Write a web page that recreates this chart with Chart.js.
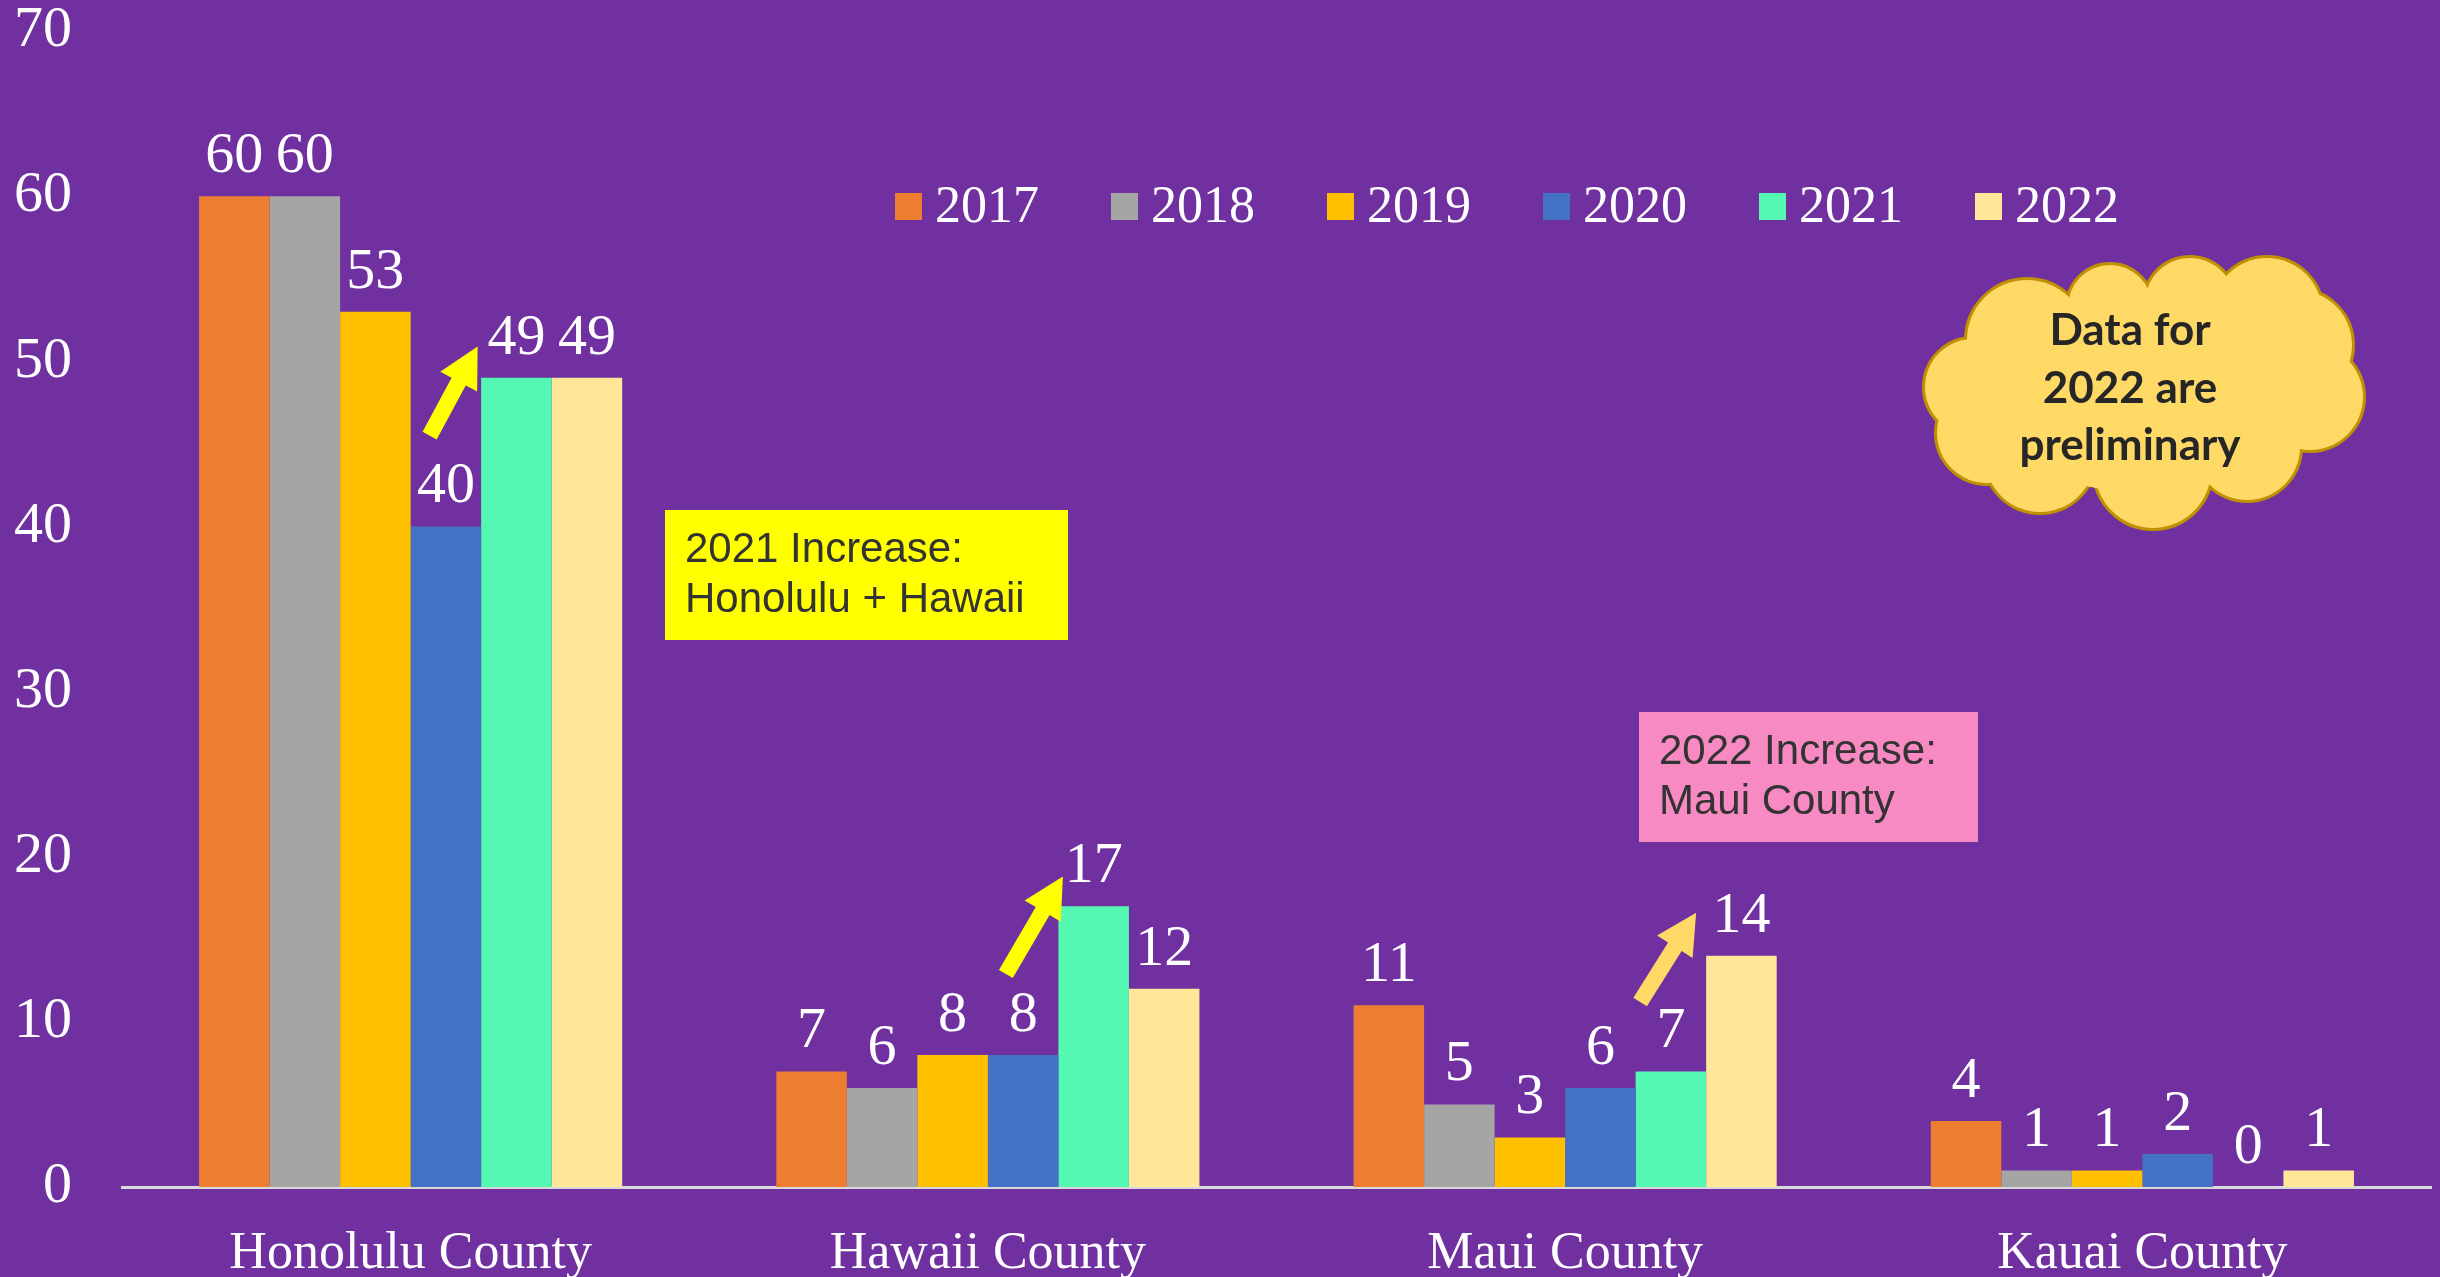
<!DOCTYPE html>
<html>
<head>
<meta charset="utf-8">
<script src="https://cdn.jsdelivr.net/npm/chart.js@4.4.0/dist/chart.umd.min.js"></script>
<style>
  html, body { margin: 0; padding: 0; background: #7030A0; }
  #wrap { width: 2440px; height: 1277px; position: relative; }
</style>
</head>
<body>
<div id="wrap"><canvas id="chart"></canvas></div>
<script>
// Chart data
const counties = ['Honolulu County', 'Hawaii County', 'Maui County', 'Kauai County'];
const years = ['2017', '2018', '2019', '2020', '2021', '2022'];
const v2017 = [60, 7, 11, 4];
const v2018 = [60, 6, 5, 1];
const v2019 = [53, 8, 3, 1];
const v2020 = [40, 8, 6, 2];
const v2021 = [49, 17, 7, 0];
const v2022 = [49, 12, 14, 1];
const yTicks = [0, 10, 20, 30, 40, 50, 60, 70];

const colors = ['#ED7D31', '#A5A5A5', '#FFC000', '#4472C4', '#55F8B3', '#FFE699'];
const serif = "'Liberation Serif', 'Times New Roman', serif";

// arrows: category index, tail [px offset, value], tip [px offset, value]
const arrows = [
  { cat: 0, tail: [19, 45.5], tip: [67, 50.9], color: '#FFFF00' },
  { cat: 1, tail: [18, 12.9], tip: [75, 18.8], color: '#FFFF00' },
  { cat: 2, tail: [75, 11.2], tip: [131, 16.6], color: '#FFD966' }
];

const seriesValues = [v2017, v2018, v2019, v2020, v2021, v2022];

function drawArrow(ctx, x1, y1, x2, y2, color) {
  const shaft = 16, headW = 42, headL = 40;
  const ang = Math.atan2(y2 - y1, x2 - x1);
  const len = Math.hypot(x2 - x1, y2 - y1);
  ctx.save();
  ctx.translate(x1, y1);
  ctx.rotate(ang);
  ctx.beginPath();
  ctx.moveTo(0, -shaft / 2);
  ctx.lineTo(len - headL, -shaft / 2);
  ctx.lineTo(len - headL, -headW / 2);
  ctx.lineTo(len, 0);
  ctx.lineTo(len - headL, headW / 2);
  ctx.lineTo(len - headL, shaft / 2);
  ctx.lineTo(0, shaft / 2);
  ctx.closePath();
  ctx.fillStyle = color;
  ctx.fill();
  ctx.restore();
}

function drawCloud(ctx) {
  const puffs = [
    [2027, 340, 60], [2110, 307, 42], [2190, 303, 45], [2267, 313, 55],
    [2297, 345, 55], [2310, 397, 53], [2247, 447, 53], [2153, 470, 58],
    [2040, 457, 55], [1987, 433, 50], [1973, 387, 48]
  ];
  ctx.save();
  ctx.strokeStyle = '#BF9000';
  ctx.lineWidth = 6;
  puffs.forEach(p => { ctx.beginPath(); ctx.arc(p[0], p[1], p[2], 0, Math.PI * 2); ctx.stroke(); });
  ctx.fillStyle = '#FFD966';
  puffs.forEach(p => { ctx.beginPath(); ctx.arc(p[0], p[1], p[2], 0, Math.PI * 2); ctx.fill(); });
  ctx.beginPath();
  ctx.ellipse(2144, 392, 170, 100, 0, 0, Math.PI * 2);
  ctx.fill();
  ctx.fillStyle = '#262626';
  ctx.font = "bold 44px Lato, 'Open Sans', sans-serif";
  ctx.textAlign = 'center';
  ctx.textBaseline = 'alphabetic';
  ctx.fillText('Data for', 2130, 345);
  ctx.fillText('2022 are', 2130, 403);
  ctx.fillText('preliminary', 2130, 460);
  ctx.restore();
}

function drawNote(ctx, x, y, w, h, bg, lines) {
  ctx.save();
  ctx.fillStyle = bg;
  ctx.fillRect(x, y, w, h);
  ctx.fillStyle = '#333333';
  ctx.font = "42px 'Liberation Sans', Arial, sans-serif";
  ctx.textAlign = 'left';
  ctx.textBaseline = 'alphabetic';
  lines.forEach((t, i) => ctx.fillText(t, x + 20, y + 52 + i * 50));
  ctx.restore();
}

const extras = {
  id: 'extras',
  afterDatasetsDraw(chart) {
    const ctx = chart.ctx;
    const xs = chart.scales.x, ys = chart.scales.y;

    // value labels above bars
    ctx.save();
    ctx.fillStyle = '#FFFFFF';
    ctx.font = '58px ' + serif;
    ctx.textAlign = 'center';
    ctx.textBaseline = 'alphabetic';
    chart.data.datasets.forEach((ds, i) => {
      chart.getDatasetMeta(i).data.forEach((bar, j) => {
        ctx.fillText(String(ds.data[j]), bar.x, bar.y - 24);
      });
    });
    ctx.restore();

    // legend
    ctx.save();
    ctx.font = '52px ' + serif;
    ctx.textBaseline = 'alphabetic';
    chart.data.datasets.forEach((ds, i) => {
      const lx = 895 + i * 216;
      ctx.fillStyle = ds.backgroundColor;
      ctx.fillRect(lx, 193, 27, 27);
      ctx.fillStyle = '#FFFFFF';
      ctx.fillText(ds.label, lx + 40, 222);
    });
    ctx.restore();

    // arrows
    arrows.forEach(a => {
      const cx = xs.getPixelForValue(a.cat);
      drawArrow(ctx, cx + a.tail[0], ys.getPixelForValue(a.tail[1]),
        cx + a.tip[0], ys.getPixelForValue(a.tip[1]), a.color);
    });

    drawNote(ctx, 665, 510, 403, 130, '#FFFF00', ['2021 Increase:', 'Honolulu + Hawaii']);
    drawNote(ctx, 1639, 712, 339, 130, '#F78AC2', ['2022 Increase:', 'Maui County']);
    drawCloud(ctx);
  }
};

Chart.defaults.font.family = serif;
Chart.defaults.color = '#FFFFFF';

const chart = new Chart(document.getElementById('chart'), {
  type: 'bar',
  data: {
    labels: counties,
    datasets: years.map((y, i) => ({
      label: y,
      data: seriesValues[i],
      backgroundColor: colors[i],
      borderWidth: 0,
      categoryPercentage: 0.733,
      barPercentage: 1
    }))
  },
  options: {
    responsive: true,
    maintainAspectRatio: false,
    animation: false,
    layout: { autoPadding: false, padding: { top: 31, right: 9, left: 0, bottom: 0 } },
    plugins: { legend: { display: false }, tooltip: { enabled: false } },
    scales: {
      x: {
        grid: { display: false, drawTicks: false },
        border: { display: true, color: '#D9D9D9', width: 3 },
        ticks: { font: { size: 52 }, color: '#FFFFFF', padding: 36, maxRotation: 0, autoSkip: false },
        afterFit: (scale) => { scale.height = 90; scale.paddingLeft = 0; scale.paddingRight = 0; }
      },
      y: {
        min: 0,
        max: 70,
        grid: { display: false, drawTicks: false },
        border: { display: false },
        ticks: { font: { size: 58 }, color: '#FFFFFF', padding: 50 },
        afterBuildTicks: (scale) => { scale.ticks = yTicks.map(v => ({ value: v })); },
        afterFit: (scale) => { scale.width = 122; scale.paddingTop = 0; scale.paddingBottom = 0; }
      }
    }
  },
  plugins: [extras]
});
</script>
</body>
</html>
